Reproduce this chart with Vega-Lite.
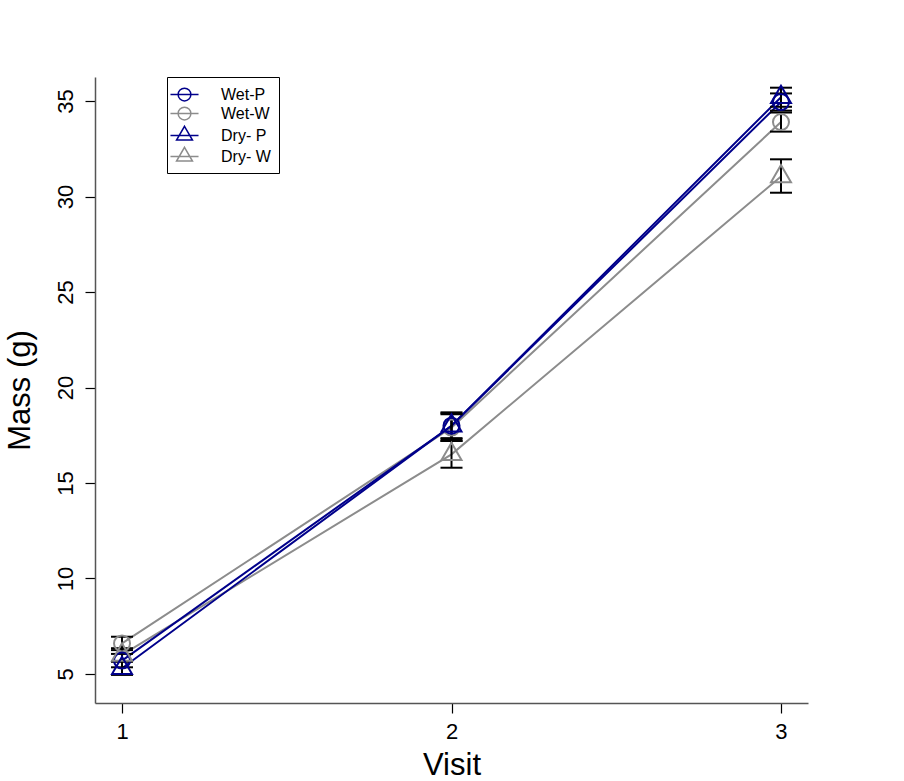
{
  "$schema": "https://vega.github.io/schema/vega-lite/v6.json",
  "width": 713,
  "height": 626,
  "autosize": "none",
  "padding": {"left": 95, "top": 77, "right": 96, "bottom": 78},
  "background": "white",
  "config": {
    "view": {"stroke": null},
    "font": "Liberation Sans",
    "axis": {"grid": false, "tickSize": 10, "tickColor": "black", "tickWidth": 1.2, "domainColor": "#555555", "domainWidth": 1.5,
      "labelFontSize": 22, "labelColor": "black", "labelFont": "Liberation Sans",
      "titleFontSize": 31, "titleFontWeight": "normal", "titleColor": "black", "titleFont": "Liberation Sans"},
    "axisX": {"labelPadding": 8, "titlePadding": 8},
    "axisY": {"labelPadding": 8, "titlePadding": 18, "labelAngle": 270, "labelAlign": "center", "labelBaseline": "bottom"},
    "legend": {"orient": "none", "legendX": 72, "legendY": 0, "title": null, "padding": 8,
      "strokeColor": "black", "fillColor": "white", "cornerRadius": 0,
      "symbolSize": 289, "symbolStrokeWidth": 1.5, "symbolFillColor": "transparent", "rowPadding": 0,
      "labelFontSize": 16, "labelFont": "Liberation Sans", "labelColor": "black", "labelOffset": 27}
  },
  "data": {
    "values": [
      {"group": "Wet-W", "visit": 1, "mass": 6.6, "lo": 6.25, "hi": 6.95},
      {"group": "Wet-W", "visit": 2, "mass": 17.9, "lo": 17.2, "hi": 18.6},
      {"group": "Wet-W", "visit": 3, "mass": 33.9, "lo": 33.4, "hi": 34.4},
      {"group": "Dry- W", "visit": 1, "mass": 6.0, "lo": 5.65, "hi": 6.35},
      {"group": "Dry- W", "visit": 2, "mass": 16.5, "lo": 15.8, "hi": 17.2},
      {"group": "Dry- W", "visit": 3, "mass": 31.05, "lo": 30.2, "hi": 31.95},
      {"group": "Wet-P", "visit": 1, "mass": 5.7, "lo": 5.35, "hi": 6.05},
      {"group": "Wet-P", "visit": 2, "mass": 18.0, "lo": 17.3, "hi": 18.7},
      {"group": "Wet-P", "visit": 3, "mass": 34.95, "lo": 34.5, "hi": 35.4},
      {"group": "Dry- P", "visit": 1, "mass": 5.3, "lo": 4.95, "hi": 5.65},
      {"group": "Dry- P", "visit": 2, "mass": 18.0, "lo": 17.35, "hi": 18.65},
      {"group": "Dry- P", "visit": 3, "mass": 35.2, "lo": 34.7, "hi": 35.7}
    ]
  },
  "layer": [
    {
      "mark": {"type": "line", "strokeWidth": 2},
      "encoding": {
        "x": {"field": "visit", "type": "quantitative", "title": "Visit",
          "scale": {"domain": [0.918, 3.082], "nice": false, "zero": false},
          "axis": {"values": [1, 2, 3], "format": "d"}},
        "y": {"field": "mass", "type": "quantitative", "title": "Mass (g)",
          "scale": {"domain": [3.48, 36.26], "nice": false, "zero": false},
          "axis": {"values": [5, 10, 15, 20, 25, 30, 35], "format": "d"}},
        "color": {"field": "group", "type": "nominal",
          "scale": {"domain": ["Wet-P", "Wet-W", "Dry- P", "Dry- W"], "range": ["#00008B", "#8C8C8C", "#00008B", "#8C8C8C"]}}
      }
    },
    {
      "mark": {"type": "rule", "color": "black", "strokeWidth": 2},
      "encoding": {
        "x": {"field": "visit", "type": "quantitative", "title": "Visit"},
        "y": {"field": "lo", "type": "quantitative", "title": "Mass (g)"},
        "y2": {"field": "hi"}
      }
    },
    {
      "mark": {"type": "tick", "orient": "horizontal", "color": "black", "size": 22, "thickness": 2, "opacity": 1},
      "encoding": {
        "x": {"field": "visit", "type": "quantitative", "title": "Visit"},
        "y": {"field": "lo", "type": "quantitative", "title": "Mass (g)"}
      }
    },
    {
      "mark": {"type": "tick", "orient": "horizontal", "color": "black", "size": 22, "thickness": 2, "opacity": 1},
      "encoding": {
        "x": {"field": "visit", "type": "quantitative", "title": "Visit"},
        "y": {"field": "hi", "type": "quantitative", "title": "Mass (g)"}
      }
    },
    {
      "transform": [{"filter": "indexof(['Wet-P','Wet-W'], datum.group) >= 0"}],
      "mark": {"type": "point", "shape": "circle", "filled": false, "strokeWidth": 2, "size": 256, "opacity": 1},
      "encoding": {
        "x": {"field": "visit", "type": "quantitative", "title": "Visit"},
        "y": {"field": "mass", "type": "quantitative", "title": "Mass (g)"},
        "color": {"field": "group", "type": "nominal",
          "scale": {"domain": ["Wet-P", "Wet-W", "Dry- P", "Dry- W"], "range": ["#00008B", "#8C8C8C", "#00008B", "#8C8C8C"]}}
      }
    },
    {
      "transform": [{"filter": "indexof(['Dry- P','Dry- W'], datum.group) >= 0"}],
      "mark": {"type": "point", "shape": "M0,-1.44L1.25,0.72L-1.25,0.72Z", "filled": false, "strokeWidth": 2, "size": 256, "opacity": 1},
      "encoding": {
        "x": {"field": "visit", "type": "quantitative", "title": "Visit"},
        "y": {"field": "mass", "type": "quantitative", "title": "Mass (g)"},
        "color": {"field": "group", "type": "nominal",
          "scale": {"domain": ["Wet-P", "Wet-W", "Dry- P", "Dry- W"], "range": ["#00008B", "#8C8C8C", "#00008B", "#8C8C8C"]}}
      }
    },
    {
      "transform": [{"filter": "datum.visit > 100"}],
      "mark": {"type": "point", "filled": false, "strokeWidth": 1.5, "opacity": 1},
      "encoding": {
        "x": {"field": "visit", "type": "quantitative", "title": "Visit"},
        "y": {"field": "mass", "type": "quantitative", "title": "Mass (g)"},
        "color": {"field": "group", "type": "nominal",
          "scale": {"domain": ["Wet-P", "Wet-W", "Dry- P", "Dry- W"], "range": ["#00008B", "#8C8C8C", "#00008B", "#8C8C8C"]}},
        "shape": {"field": "group", "type": "nominal",
          "scale": {"domain": ["Wet-P", "Wet-W", "Dry- P", "Dry- W"],
            "range": ["M-1.65,0H1.65M0.75,0A0.75,0.75,0,1,1,-0.75,0A0.75,0.75,0,1,1,0.75,0",
                      "M-1.65,0H1.65M0.75,0A0.75,0.75,0,1,1,-0.75,0A0.75,0.75,0,1,1,0.75,0",
                      "M-1.65,0H1.65M0,-1.08L0.935,0.54L-0.935,0.54Z",
                      "M-1.65,0H1.65M0,-1.08L0.935,0.54L-0.935,0.54Z"]}}
      }
    }
  ]
}
